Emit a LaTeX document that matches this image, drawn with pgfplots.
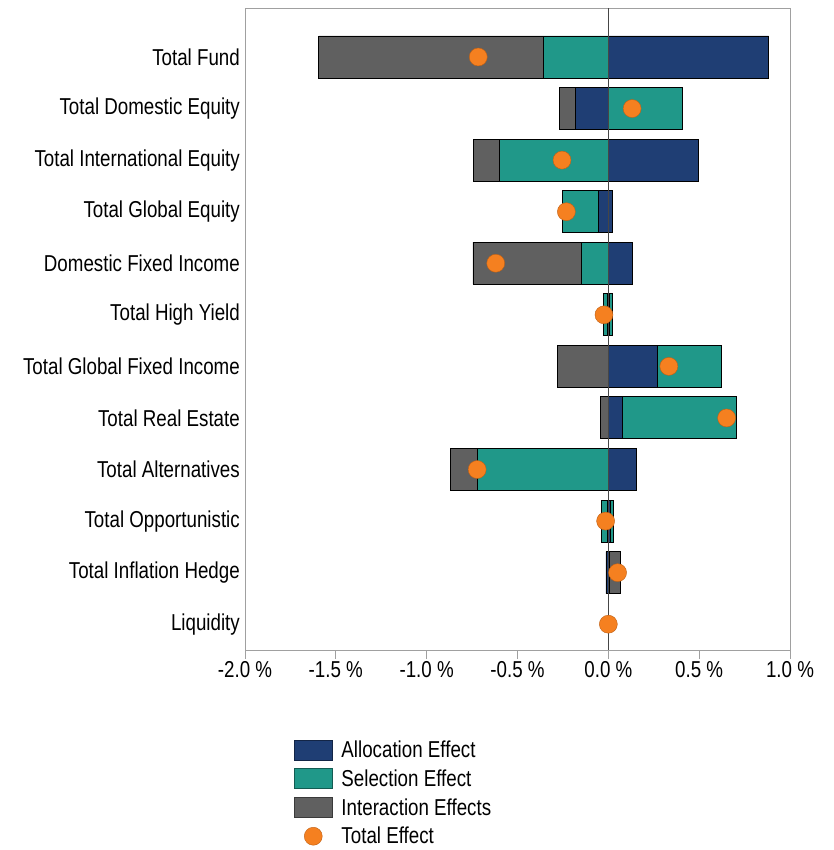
\documentclass[border=0pt]{standalone}
\usepackage{fontspec}
\setmainfont{Liberation Sans}[FakeStretch=0.815]
\usepackage{pgfplots}
\usepackage{pgfplotstable}
\pgfplotsset{compat=1.18}
\definecolor{navyA}{RGB}{31,62,116}
\definecolor{tealS}{RGB}{32,152,137}
\definecolor{grayI}{RGB}{96,96,96}
\definecolor{dotO}{RGB}{245,128,32}
\definecolor{dotE}{RGB}{190,95,20}
\definecolor{frameG}{RGB}{160,160,160}
\definecolor{zeroL}{RGB}{70,70,70}
\newcommand\myfont{\fontsize{23}{27}\selectfont}

\pgfplotstableread{
y  allocP allocN selP  selN   intP  intN   total
11 0.882  0      0     -0.359 0     -1.235 -0.716
10 0      -0.182 0.410 0      0     -0.089 0.131
9  0.494  0      0     -0.598 0     -0.143 -0.255
8  0.020  -0.056 0     -0.195 0     0      -0.231
7  0.135  0      0     -0.149 0     -0.596 -0.620
6  0.006  -0.005 0.016 -0.022 0     0      -0.024
5  0.269  0      0.353 0      0     -0.278 0.333
4  0.075  0      0.629 0      0     -0.045 0.651
3  0.153  0      0     -0.722 0     -0.147 -0.722
2  0.012  -0.006 0.014 -0.030 0     0      -0.015
1  0.004  -0.013 0     0      0.062 0      0.051
0  0      0      0     0      0     0      0
}\data

\pgfplotsset{
  mybase/.style={
    scale only axis, width=545pt, height=642pt,
    at={(245pt,200pt)}, anchor=south west,
    xmin=-2, xmax=1, ymin=-0.5, ymax=11.95,
  },
  barst/.style={draw=black, line width=0.9pt},
}

\begin{document}
\begin{tikzpicture}
\path[use as bounding box] (0pt,0pt) rectangle (833pt,850pt);

% axis 1: frame, ticks, labels, negative parts
\begin{axis}[mybase, xbar stacked, bar width=42pt,
  axis line style={draw=frameG, line width=0.8pt},
  tick pos=left,
  xtick={-2,-1.5,-1,-0.5,0,0.5,1},
  xtick align=outside, major tick length=9pt,
  xtick style={draw=frameG, line width=0.8pt},
  /pgf/number format/assume math mode=true,
  xticklabel={\pgfmathprintnumber[fixed,fixed zerofill,precision=1]{\tick}\ \%},
  xticklabel style={font=\myfont, inner sep=2pt},
  ytick={0,...,11},
  yticklabels={Liquidity,Total Inflation Hedge,Total Opportunistic,Total Alternatives,Total Real Estate,Total Global Fixed Income,Total High Yield,Domestic Fixed Income,Total Global Equity,Total International Equity,Total Domestic Equity,Total Fund},
  ytick style={draw=none},
  yticklabel style={font=\myfont, inner sep=0pt, xshift=-5pt},
]
\addplot[barst, fill=navyA] table[x=allocN, y=y] {\data};
\addplot[barst, fill=tealS] table[x=selN, y=y] {\data};
\addplot[barst, fill=grayI] table[x=intN, y=y] {\data};
\end{axis}

% axis 2: positive parts
\begin{axis}[mybase, hide axis, xbar stacked, bar width=42pt]
\addplot[barst, fill=navyA] table[x=allocP, y=y] {\data};
\addplot[barst, fill=tealS] table[x=selP, y=y] {\data};
\addplot[barst, fill=grayI] table[x=intP, y=y] {\data};
\end{axis}

% axis 3: zero line, total effect, legend
\begin{axis}[mybase, hide axis,
  legend style={at={(axis description cs:0.084,-0.135)}, anchor=north west,
    draw=none, fill=none, font=\myfont, row sep=6.6pt,
    nodes={inner sep=2pt}},
  legend cell align=left,
]
\draw[zeroL, line width=1pt] (axis cs:0,-0.5) -- (axis cs:0,11.95);
\addplot[only marks, mark=*, mark size=9pt,
  mark options={fill=dotO, draw=dotE, line width=0.4pt}]
  table[x=total, y=y] {\data};
\addlegendimage{legend image code/.code={\draw[fill=navyA,draw=navyA!60!black,line width=0.6pt] (0pt,-10pt) rectangle (38pt,10pt); \path (45pt,0pt);}}
\addlegendimage{legend image code/.code={\draw[fill=tealS,draw=tealS!60!black,line width=0.6pt] (0pt,-10pt) rectangle (38pt,10pt); \path (45pt,0pt);}}
\addlegendimage{legend image code/.code={\draw[fill=grayI,draw=grayI!60!black,line width=0.6pt] (0pt,-10pt) rectangle (38pt,10pt); \path (45pt,0pt);}}
\addlegendimage{legend image code/.code={\draw[fill=dotO,draw=dotE,line width=0.4pt] (19pt,0pt) circle (9pt); \path (0pt,0pt) (45pt,0pt);}}
\legend{,Allocation Effect,Selection Effect,Interaction Effects,Total Effect}
\end{axis}
\end{tikzpicture}
\end{document}
